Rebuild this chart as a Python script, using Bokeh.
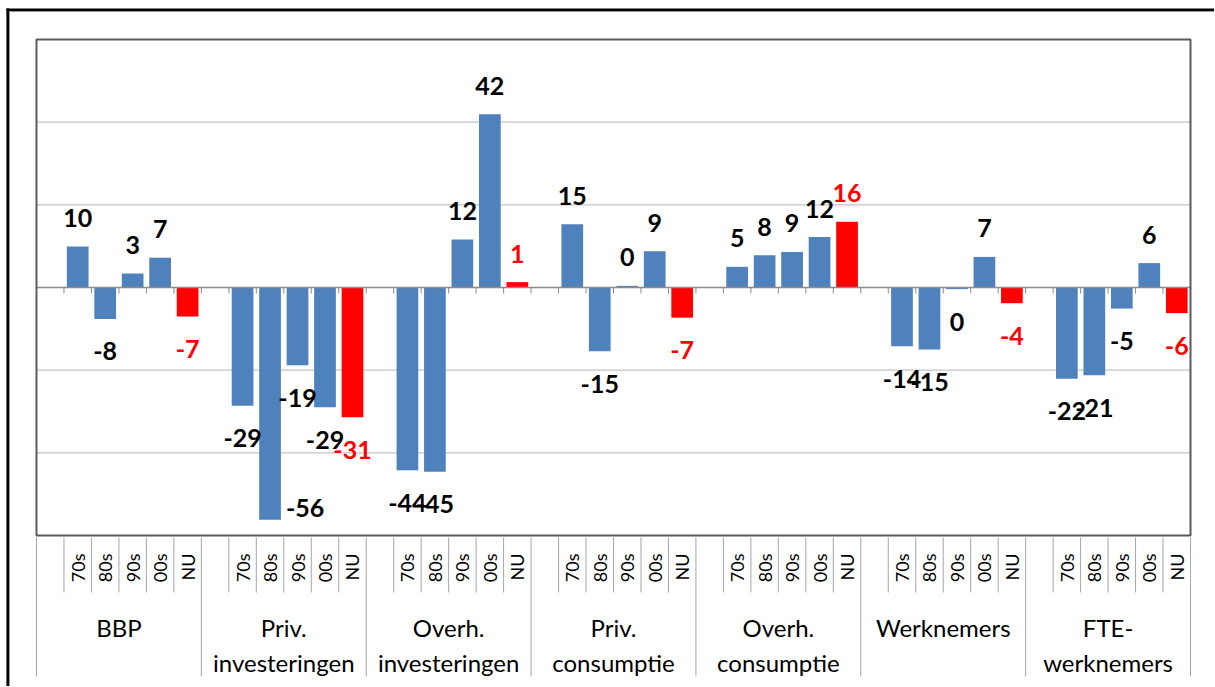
from bokeh.plotting import figure
from bokeh.models import Range1d, ColumnDataSource
from bokeh.core.properties import value
from bokeh.embed import file_html
from bokeh.resources import INLINE

# ---------------- data ----------------
groups = ["BBP", "Priv.\ninvesteringen", "Overh.\ninvesteringen", "Priv.\nconsumptie",
          "Overh.\nconsumptie", "Werknemers", "FTE-\nwerknemers"]
periods = ["70s", "80s", "90s", "00s", "NU"]
bbp = [9.9, -7.6, 3.4, 7.2, -7.0]
priv_inv = [-28.6, -56.2, -18.8, -29.0, -31.4]
overh_inv = [-44.2, -44.6, 11.6, 41.9, 1.3]
priv_cons = [15.3, -15.4, 0.4, 8.8, -7.3]
overh_cons = [5.0, 7.8, 8.6, 12.2, 15.9]
werknemers = [-14.2, -15.0, -0.4, 7.4, -3.8]
fte_werknemers = [-22.1, -21.2, -5.1, 5.9, -6.2]
series = [bbp, priv_inv, overh_inv, priv_cons, overh_cons, werknemers, fte_werknemers]
grid_values = [-40, -20, 20, 40]
y_min, y_max = -60, 60

# ---------------- layout (page pixels) ----------------
W, H = 1214, 686
PAGE = 0
FL, FR, FT, FB = 36.0, 1190.0, 39.0, 535.0
slots_per_group = len(periods) + 1
n_slots = slots_per_group * len(groups)
SX = (FR - FL) / n_slots
SY = (FB - FT) / (y_max - y_min)
ZERO = FT + y_max * SY

def dx(px):
    return (px - FL) / SX

def dy(py):
    return (ZERO - py) / SY

BLUE = "#4F81BD"
RED = "#FF0000"

p = figure(width=W, height=H, output_backend="svg", toolbar_location=None,
           x_range=Range1d(dx(PAGE), dx(PAGE + W)), y_range=Range1d(dy(PAGE + H), dy(PAGE)),
           x_axis_type=None, y_axis_type=None, min_border=0,
           background_fill_color="white", border_fill_color="white")
p.outline_line_color = None
p.grid.visible = False

# gridlines
p.segment(x0=[0] * len(grid_values), x1=[n_slots] * len(grid_values), y0=grid_values, y1=grid_values,
          line_color="#C4C4C4", line_width=1.3)

# bars
xs, tops, colors, labels, lcolors, yoffs, xoffs = [], [], [], [], [], [], []
for gi, vals in enumerate(series):
    for si, v in enumerate(vals):
        x = gi * slots_per_group + si + 1 + 0.5
        xs.append(x)
        tops.append(v)
        is_now = periods[si] == "NU"
        colors.append(RED if is_now else BLUE)
        lcolors.append(RED if is_now else "black")
        labels.append(str(int(round(v))))
        yoffs.append(-28.5 if v >= 0 else 32.5)
        xoffs.append(0)
# nudged label (moved off the axis area, as in the original)
k = 1 * len(periods) + 1
xoffs[k] = 35
yoffs[k] = -12

src = ColumnDataSource(dict(x=xs, top=tops, color=colors, label=labels, lcolor=lcolors,
                            yoff=yoffs, xoff=xoffs))
p.vbar(x="x", top="top", bottom=0, width=0.79, fill_color="color", line_color=None, source=src)

# zero axis + ticks
p.segment(x0=[0], x1=[n_slots], y0=[0], y1=[0], line_color="#8C8C8C", line_width=1.5)
tick_x = list(range(n_slots + 1))
p.segment(x0=tick_x, x1=tick_x, y0=[0] * len(tick_x), y1=[dy(ZERO + 6)] * len(tick_x),
          line_color="#8C8C8C", line_width=1)

# value labels
p.text(x="x", y="top", text="label", text_color="lcolor", x_offset="xoff", y_offset="yoff",
       text_align="center", text_baseline="middle", text_font=value("Lato"),
       text_font_style="bold", text_font_size="25px", source=src)

# inner frame
p.quad(left=[0], right=[n_slots], bottom=[y_min], top=[y_max], fill_color=None,
       line_color="#5A5A5A", line_width=2)

# category separators
sep_short, sep_long = [], []
for g in range(len(groups)):
    for s in range(1, slots_per_group):
        sep_short.append(g * slots_per_group + s)
    sep_long.append(g * slots_per_group)
sep_long.append(n_slots)
p.segment(x0=sep_short, x1=sep_short, y0=[dy(FB + 2)] * len(sep_short), y1=[dy(592)] * len(sep_short),
          line_color="#A6A6A6", line_width=1)
p.segment(x0=sep_long, x1=sep_long, y0=[dy(FB + 2)] * len(sep_long), y1=[dy(676)] * len(sep_long),
          line_color="#A6A6A6", line_width=1)

# period labels (rotated)
px_, pt_ = [], []
for g in range(len(groups)):
    for si, per in enumerate(periods):
        px_.append(g * slots_per_group + si + 1 + 0.5)
        pt_.append(per)
p.text(x=px_, y=[dy(553)] * len(px_), text=pt_, angle=1.5708, text_align="right",
       text_baseline="middle", text_font=value("Lato"), text_font_size="18px", text_color="black")

# group labels
gx = [g * slots_per_group + slots_per_group / 2 for g in range(len(groups))]
line1 = [g.split("\n")[0] for g in groups]
line2 = [g.split("\n")[1] if "\n" in g else "" for g in groups]
p.text(x=gx, y=[dy(627)] * len(gx), text=line1, text_align="center", text_baseline="middle",
       text_font=value("Lato"), text_font_size="24px", text_color="black")
p.text(x=gx, y=[dy(662)] * len(gx), text=line2, text_align="center", text_baseline="middle",
       text_font=value("Lato"), text_font_size="24px", text_color="black")

# outer box (left and top edges)
p.segment(x0=[dx(7.2)], x1=[dx(7.2)], y0=[dy(8)], y1=[dy(PAGE + H)],
          line_color="black", line_width=2.6)
p.segment(x0=[dx(6)], x1=[dx(PAGE + W)], y0=[dy(9.3)], y1=[dy(9.3)],
          line_color="black", line_width=2.6)
p.segment(x0=[dx(9)], x1=[dx(9)], y0=[dy(10.6)], y1=[dy(PAGE + H)],
          line_color="#9A9A9A", line_width=1)
p.segment(x0=[dx(8.5)], x1=[dx(PAGE + W)], y0=[dy(11)], y1=[dy(11)],
          line_color="#9A9A9A", line_width=1)

open("out.html", "w").write(file_html(p, INLINE))
